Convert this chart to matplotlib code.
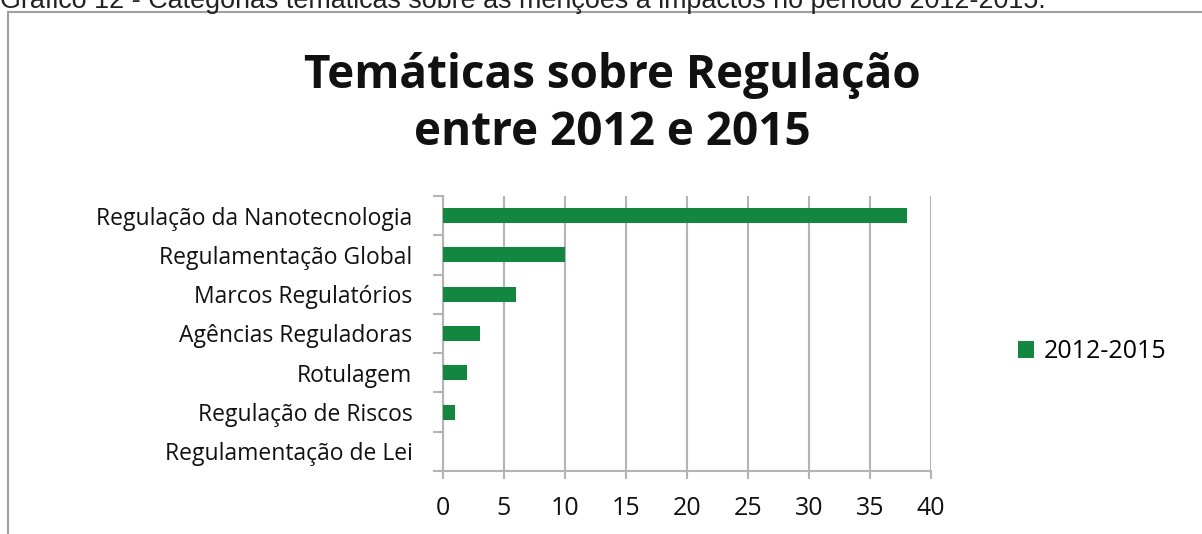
import matplotlib
matplotlib.use('Agg')
import matplotlib.pyplot as plt
from matplotlib.patches import Rectangle

# Dados do gráfico
categorias = ['Regulação da Nanotecnologia', 'Regulamentação Global', 'Marcos Regulatórios',
              'Agências Reguladoras', 'Rotulagem', 'Regulação de Riscos', 'Regulamentação de Lei']
valores = [38, 10, 6, 3, 2, 1, 0]
serie = '2012-2015'
x_ticks = [0, 5, 10, 15, 20, 25, 30, 35, 40]

verde = '#13873f'
cinza = '#b4b4b4'

fig = plt.figure(figsize=(12.02, 5.34), dpi=100)
W, H = 1202, 534

# moldura e legenda cortada no topo
fig.add_artist(Rectangle((8 / W, -0.1), 1.1, 1 - 12 / H + 0.1, transform=fig.transFigure,
                         fill=False, edgecolor='#a0a0a0', linewidth=1.5))
fig.text(0.0, 1 - 1 / H, 'Gráfico 12 - Categorias temáticas sobre as menções a impactos no período 2012-2015.',
         family='Liberation Sans', fontsize=19.4, va='center', ha='left', color='#222222')

ax = fig.add_axes([443 / W, 1 - 471 / H, (931 - 443) / W, (471 - 196) / H])
pos = list(range(len(categorias)))[::-1]
ax.barh(pos, valores, height=0.38, color=verde, label=serie, zorder=3)
ax.set_xlim(0, 40)
ax.set_ylim(-0.5, len(categorias) - 0.5)
ax.set_xticks(x_ticks)
ax.set_yticks(pos)
ax.set_yticklabels(categorias)
ax.set_yticks([p - 0.5 for p in pos] + [len(categorias) - 0.5], minor=True)
ax.tick_params(axis='y', which='major', length=0, pad=22)
ax.tick_params(axis='y', which='minor', length=7, width=1.5, color=cinza, direction='out')
ax.tick_params(axis='x', length=6, width=1.5, color=cinza, pad=12)
ax.grid(axis='x', color=cinza, linewidth=1.5, zorder=0)
for lab in ax.get_yticklabels():
    lab.set_family('Open Sans')
    lab.set_fontsize(16.5)
    lab.set_color('#111111')
for lab in ax.get_xticklabels():
    lab.set_family('Open Sans')
    lab.set_fontsize(18)
    lab.set_color('#111111')
for s in ['top', 'right']:
    ax.spines[s].set_visible(False)
for s in ['left', 'bottom']:
    ax.spines[s].set_color(cinza)
    ax.spines[s].set_linewidth(1.5)

fig.text(612 / W, 1 - 104 / H, 'Temáticas sobre Regulação\nentre 2012 e 2015', ha='center', va='center',
         family='Open Sans', fontweight='bold', fontsize=33, linespacing=1.3, color='#111111')

ax.legend(loc='center left', bbox_to_anchor=(1005 / W, 1 - 352 / H), bbox_transform=fig.transFigure,
          frameon=False, prop={'family': 'Open Sans', 'size': 18}, handlelength=0.65, handleheight=0.65,
          handletextpad=0.4, borderpad=0)

fig.savefig('out.png', dpi=100, facecolor='white')
